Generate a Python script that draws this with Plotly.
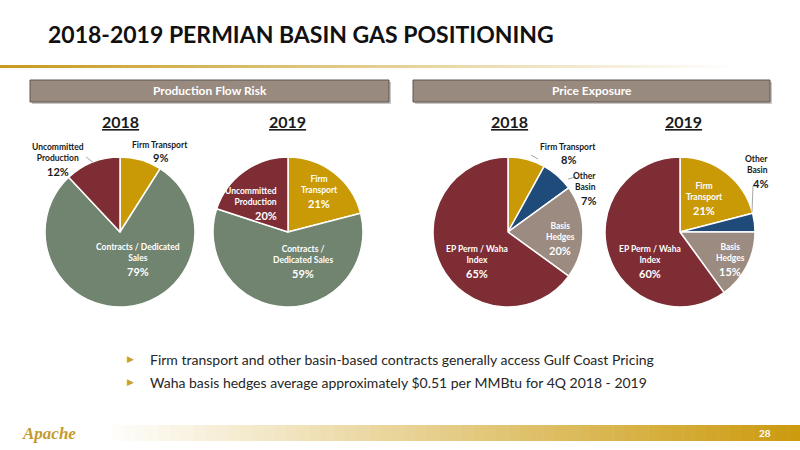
import plotly.graph_objects as go

W, H = 800, 450

# ---- data ----
flow_labels = ['Firm Transport', 'Contracts / Dedicated Sales', 'Uncommitted Production']
flow_2018 = [9, 79, 12]
flow_2019 = [21, 59, 20]

price_labels = ['Firm Transport', 'Other Basin', 'Basis Hedges', 'EP Perm / Waha Index']
price_2018 = [8, 7, 20, 65]
price_2019 = [21, 4, 15, 60]

flow_colors = ['#c99a06', '#718470', '#7e2d34']
price_colors = ['#c99a06', '#1f4b7b', '#9b8b81', '#7e2d34']

bullets = ['Firm transport and other basin-based contracts generally access Gulf Coast Pricing',
           'Waha basis hedges average approximately $0.51 per MMBtu for 4Q 2018 - 2019']

FONT = 'Lato'
LINE = 11.5


def px(x, y):
    return x / W, 1 - y / H


def dom(cx, cy, r):
    return dict(x=[(cx - r) / W, (cx + r) / W], y=[1 - (cy + r) / H, 1 - (cy - r) / H])


def text_at(x, y, text, size, color, family=FONT, xanchor='center', align='center'):
    xx, yy = px(x, y)
    return dict(x=xx, y=yy, xref='paper', yref='paper', xanchor=xanchor, yanchor='middle',
                align=align, showarrow=False, text=text,
                font=dict(family=family, size=size, color=color))


pies = [
    (flow_labels, flow_2018, flow_colors, (120, 232)),
    (flow_labels, flow_2019, flow_colors, (288, 232)),
    (price_labels, price_2018, price_colors, (508, 232)),
    (price_labels, price_2019, price_colors, (680, 232)),
]

fig = go.Figure()
for labels, vals, cols, (cx, cy) in pies:
    fig.add_trace(go.Pie(labels=labels, values=vals, sort=False, direction='clockwise',
                         rotation=0, textinfo='none', hoverinfo='label+percent',
                         marker=dict(colors=cols, line=dict(color='white', width=1.5)),
                         domain=dom(cx, cy, 75), showlegend=False))

# label placement per slice: (x, y of first line, wrapped name, color, anchor)
DARK, WHITE = '#1a1a1a', '#ffffff'
label_pos = [
    [(160, 145, 'Firm Transport', DARK, 'center'),
     (138, 247, 'Contracts / Dedicated<br>Sales', WHITE, 'center'),
     (58, 147, 'Uncommitted<br>Production', DARK, 'center')],
    [(319, 179, 'Firm<br>Transport', WHITE, 'center'),
     (303, 249, 'Contracts /<br>Dedicated Sales', WHITE, 'center'),
     (279, 191, 'Uncommitted<br>Production', WHITE, 'right')],
    [(568, 147, 'Firm Transport', DARK, 'center'),
     (598, 176, 'Other<br>Basin', DARK, 'right'),
     (560, 226, 'Basis<br>Hedges', WHITE, 'center'),
     (477, 249, 'EP Perm / Waha<br>Index', WHITE, 'center')],
    [(704, 186, 'Firm<br>Transport', WHITE, 'center'),
     (770, 159, 'Other<br>Basin', DARK, 'right'),
     (730, 247, 'Basis<br>Hedges', WHITE, 'center'),
     (650, 249, 'EP Perm / Waha<br>Index', WHITE, 'center')],
]

ann = []
for (labels, vals, cols, c), pos in zip(pies, label_pos):
    for v, (x, y, name, col, anc) in zip(vals, pos):
        k = name.count('<br>') + 1
        ann.append(text_at(x, y + (k - 1) * LINE / 2, f'<b>{name}</b>', 8.5, col,
                           xanchor=anc, align=anc))
        ann.append(text_at(x, y + k * LINE + 1, f'<b>{v}%</b>', 11, col, xanchor=anc, align=anc))

shapes = []

# top gold rule fading out
n = 60
for i in range(n):
    t = i / (n - 1)
    r = int(200 + (255 - 200) * t)
    g = int(155 + (255 - 155) * t)
    b = int(30 + (255 - 30) * t)
    x0, x1 = 740 * i / n, 740 * (i + 1) / n + 0.5
    shapes.append(dict(type='rect', xref='paper', yref='paper', x0=x0 / W, x1=x1 / W,
                       y0=1 - 68 / H, y1=1 - 65 / H, fillcolor=f'rgb({r},{g},{b})', line_width=0,
                       layer='below'))

# footer gradient bar
for i in range(n):
    t = i / (n - 1)
    r = int(255 + (204 - 255) * t)
    g = int(255 + (155 - 255) * t)
    b = int(255 + (15 - 255) * t)
    x0, x1 = 100 + 700 * i / n, 100 + 700 * (i + 1) / n + 0.5
    shapes.append(dict(type='rect', xref='paper', yref='paper', x0=x0 / W, x1=x1 / W,
                       y0=1 - 441 / H, y1=1 - 425 / H, fillcolor=f'rgb({r},{g},{b})', line_width=0,
                       layer='below'))

# header bars
for x0, x1, txt in [(30, 389, 'Production Flow Risk'), (413, 770, 'Price Exposure')]:
    shapes.append(dict(type='rect', xref='paper', yref='paper', x0=(x0 + 2) / W, x1=(x1 + 2) / W,
                       y0=1 - 104 / H, y1=1 - 82 / H, fillcolor='#c9c6c4', line_width=0, layer='below'))
    shapes.append(dict(type='rect', xref='paper', yref='paper', x0=x0 / W, x1=x1 / W,
                       y0=1 - 102 / H, y1=1 - 80 / H, fillcolor='#998a80',
                       line=dict(color='#5f5650', width=1), layer='below'))
    ann.append(text_at((x0 + x1) / 2, 91, f'<b>{txt}</b>', 12, 'white'))

# year headings
for x, yr in [(120, '2018'), (287, '2019'), (510, '2018'), (683, '2019')]:
    ann.append(text_at(x, 121, f'<b><u>{yr}</u></b>', 16, '#1a1a1a'))

# leader lines
for (xa, ya, xb, yb) in [(86, 157, 94, 163), (531, 155, 538, 159), (576, 177, 568, 179),
                         (753, 186, 752, 212)]:
    shapes.append(dict(type='line', xref='paper', yref='paper', x0=xa / W, y0=1 - ya / H,
                       x1=xb / W, y1=1 - yb / H, line=dict(color='#a6a6a6', width=1)))

# title
ann.append(text_at(46, 34, '<b>2018-2019 PERMIAN BASIN GAS POSITIONING</b>', 23, '#111111',
                   xanchor='left'))

# bullets
for i, b in enumerate(bullets):
    y = 359 + 23 * i
    ann.append(text_at(130, y, '\u25B6', 9, '#c9a227', family='DejaVu Sans'))
    ann.append(text_at(148, y, b, 14, '#262626', xanchor='left'))

# logo and page number
ann.append(text_at(20, 433, '<b><i>Apache</i></b>', 17, '#c39a2c', family='Liberation Serif',
                   xanchor='left'))
ann.append(text_at(765, 433, '<b>28</b>', 10, 'white'))

fig.update_layout(width=W, height=H, margin=dict(l=0, r=0, t=0, b=0),
                  paper_bgcolor='white', plot_bgcolor='white',
                  shapes=shapes, annotations=ann)

fig.write_html('out.html', config={'displayModeBar': False},
               post_script="document.body.style.margin='0px';")
